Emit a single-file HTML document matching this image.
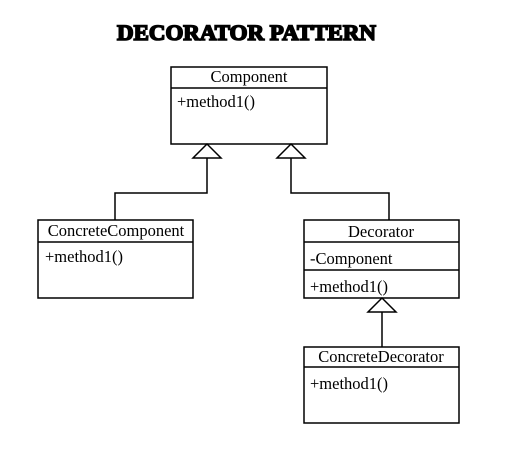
<!DOCTYPE html>
<html><head><style>html,body{margin:0;padding:0;background:#fff}</style></head>
<body>
<svg width="505" height="450" xmlns="http://www.w3.org/2000/svg" font-family="Liberation Serif, serif">
<rect width="505" height="450" fill="#fff"/>
<text x="117" y="40" font-size="22" font-weight="bold" textLength="259" lengthAdjust="spacingAndGlyphs" fill="#000" stroke="#000" stroke-width="1.6">DECORATOR PATTERN</text>
<g fill="none" stroke="#000" stroke-width="1.5">
<rect x="171" y="67" width="156" height="77"/><line x1="171" y1="88" x2="327" y2="88"/>
<rect x="38" y="220" width="155" height="78"/><line x1="38" y1="242" x2="193" y2="242"/>
<rect x="304" y="220" width="155" height="78"/><line x1="304" y1="242" x2="459" y2="242"/><line x1="304" y1="270" x2="459" y2="270"/>
<rect x="304" y="347" width="155" height="76"/><line x1="304" y1="367" x2="459" y2="367"/>
<polygon points="207,144 193,158 221,158"/>
<polygon points="291,144 277,158 305,158"/>
<polygon points="382,298 368,312 396,312"/>
<polyline points="207,158 207,193 115,193 115,220"/>
<polyline points="291,158 291,193 389,193 389,220"/>
<line x1="382" y1="312" x2="382" y2="347"/>
</g>
<g font-size="16.5" fill="#000">
<text x="249" y="82" text-anchor="middle">Component</text>
<text x="177" y="107">+method1()</text>
<text x="116" y="236" text-anchor="middle">ConcreteComponent</text>
<text x="45" y="262">+method1()</text>
<text x="381" y="237" text-anchor="middle">Decorator</text>
<text x="310" y="264">-Component</text>
<text x="310" y="292">+method1()</text>
<text x="381" y="362" text-anchor="middle">ConcreteDecorator</text>
<text x="310" y="389">+method1()</text>
</g>
</svg>
</body></html>
